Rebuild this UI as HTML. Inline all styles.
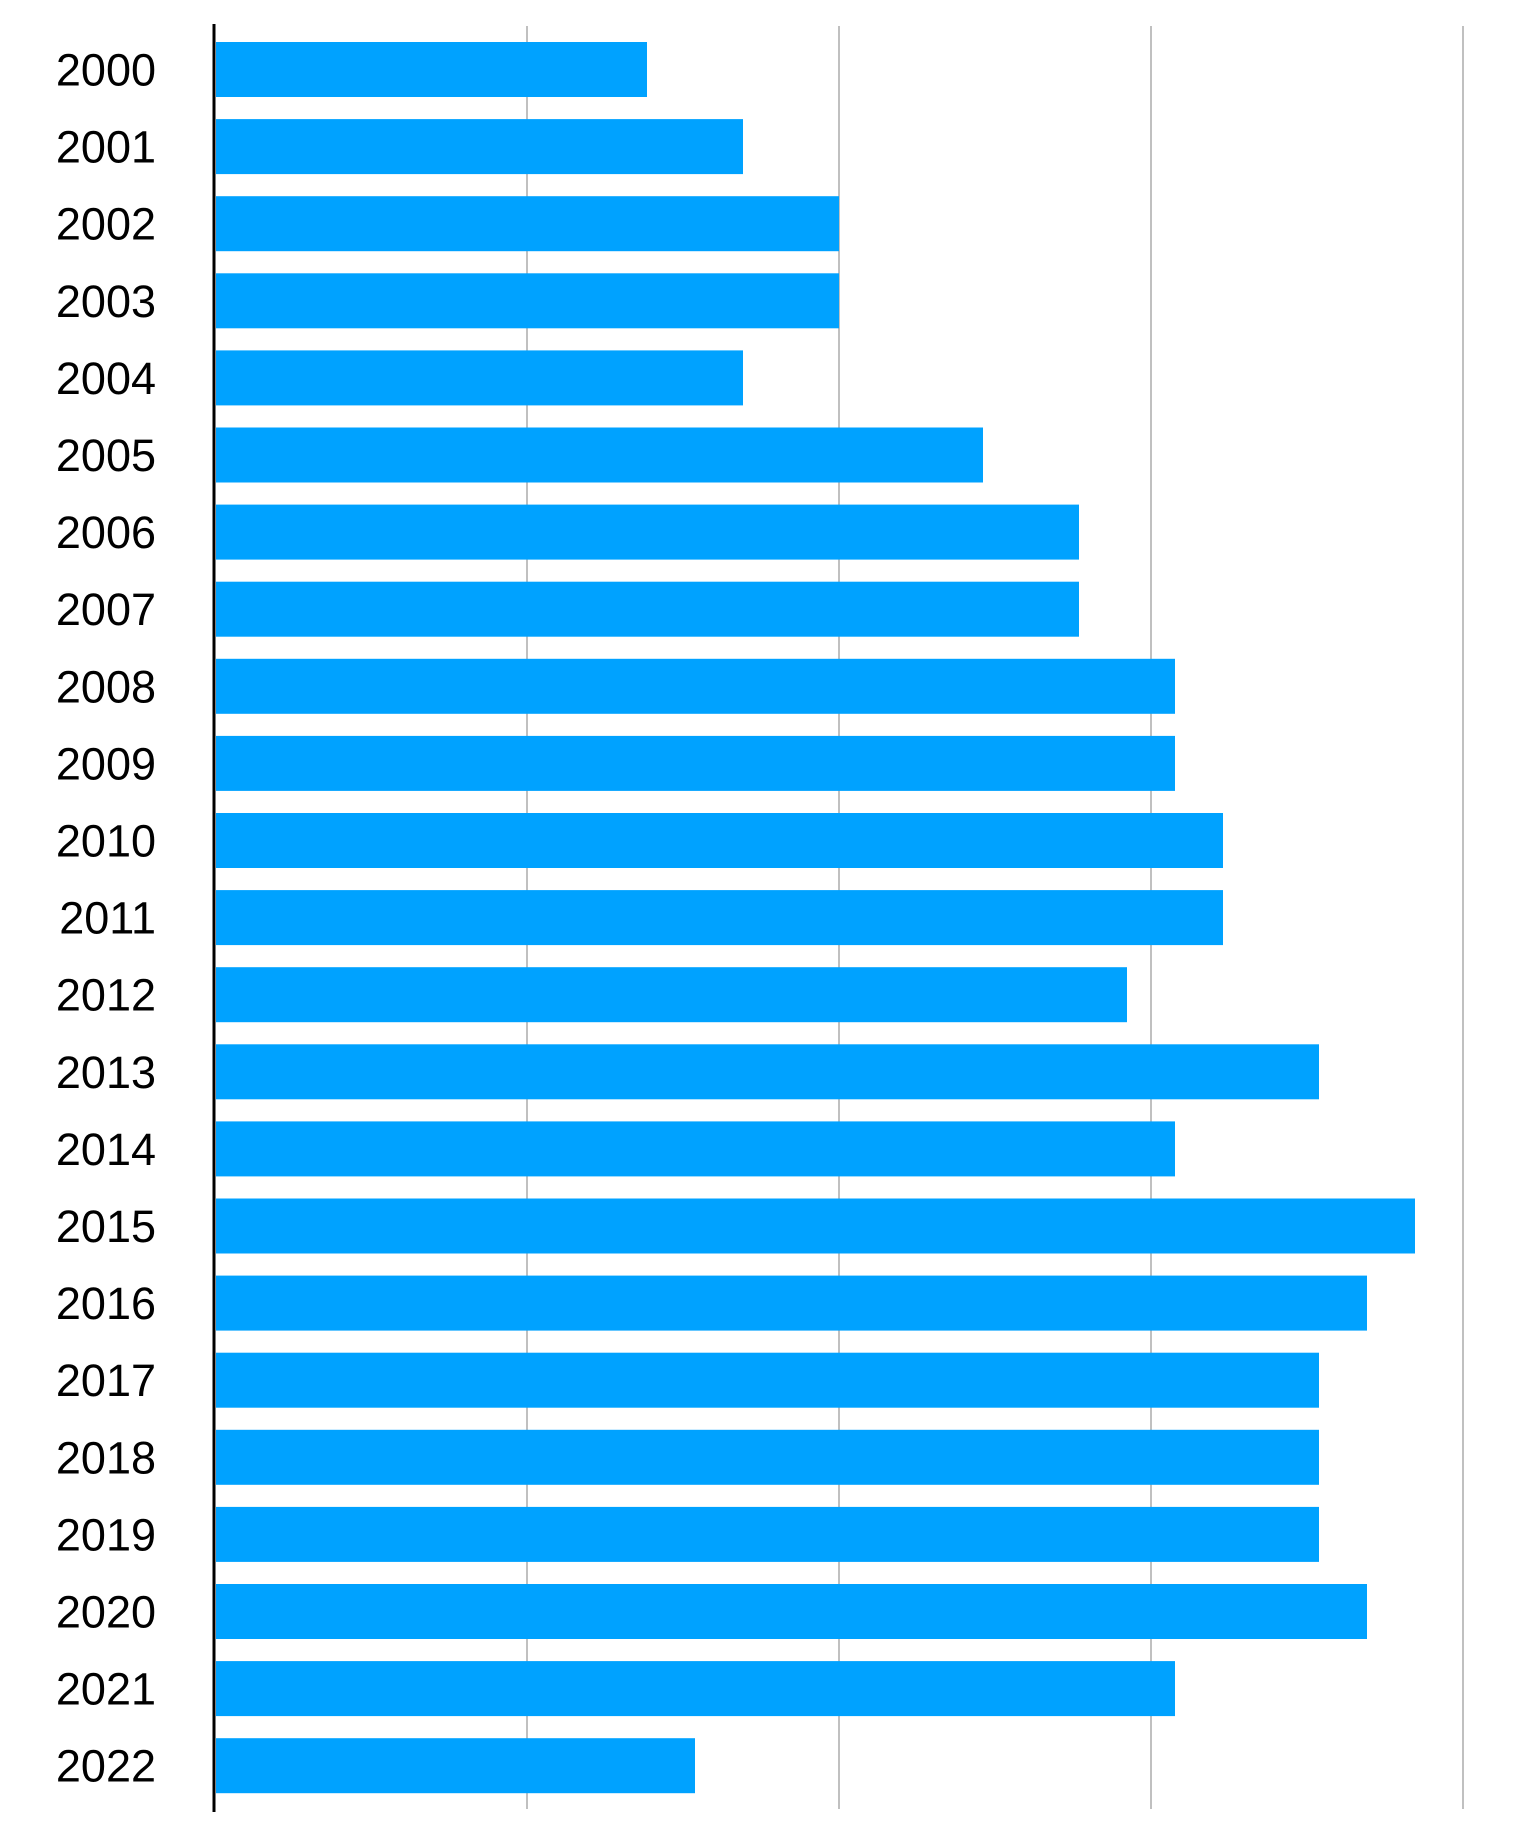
<!DOCTYPE html>
<html><head><meta charset="utf-8"><style>
html,body{margin:0;padding:0;background:#fff}
svg{display:block}
</style></head><body>
<svg width="1536" height="1836" viewBox="0 0 1536 1836" id="chart"></svg>
<script>
const categories=["2000","2001","2002","2003","2004","2005","2006","2007","2008","2009","2010","2011","2012","2013","2014","2015","2016","2017","2018","2019","2020","2021","2022"];
const values=[9,11,13,13,11,16,18,18,20,20,21,21,19,23,20,25,24,23,23,23,24,20,10];
const ticks=[0,6.5,13,19.5,26];
const NS="http://www.w3.org/2000/svg";
const svg=document.getElementById('chart');
const x0=215, xPerUnit=312/6.5, yTop=42, pitch=77.1, barH=55;
function xs(v){return x0+v*xPerUnit;}
function ys(i){return yTop+i*pitch;}
function mk(t,a){const e=document.createElementNS(NS,t);for(const k in a)e.setAttribute(k,a[k]);svg.appendChild(e);return e;}
ticks.forEach((t,i)=>{if(t===0)return;
 const g=mk('line',{x1:xs(t),x2:xs(t),y1:26,y2:1809,stroke:'#c0c0c0','stroke-width':2});
 
 
});
categories.forEach((c,i)=>{
 const r=mk('rect',{x:xs(0)+1,y:ys(i),width:xs(values[i])-xs(0)-1,height:barH,fill:'#00a2ff'});
 
 
 const t=mk('text',{x:156,y:ys(i)+barH/2+16,'text-anchor':'end','font-family':'Liberation Sans, sans-serif','font-size':45,fill:'#000'});
 t.textContent=c;
 
 
});
const ax=mk('line',{x1:214,x2:214,y1:24,y2:1812,stroke:'#000','stroke-width':3});


</script>
</body></html>
